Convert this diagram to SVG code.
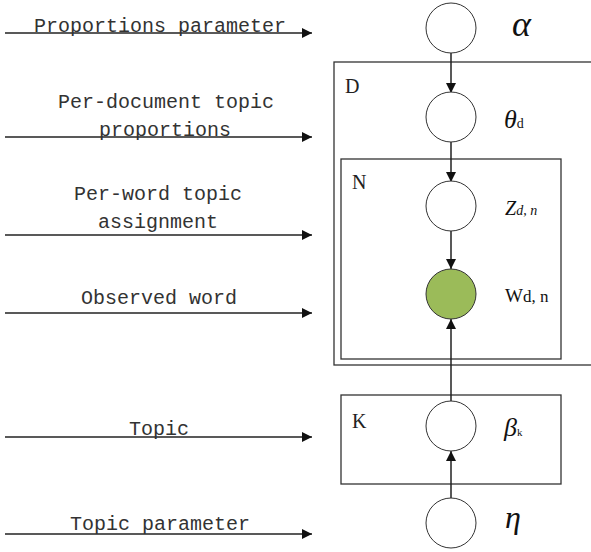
<svg xmlns="http://www.w3.org/2000/svg" width="591" height="552" viewBox="0 0 591 552">
<style>
.lbl{font-family:"Liberation Mono",monospace;font-size:20px;fill:#333;text-anchor:middle}
.ln{stroke:#222;stroke-width:1.5;fill:none}
.box{stroke:#333;stroke-width:1.3;fill:none}
.nd{stroke:#333;stroke-width:1;fill:#fff}
.sym{font-family:"Liberation Serif",serif;font-style:italic;fill:#111}
.pl{font-family:"Liberation Serif",serif;font-size:20px;fill:#222}
</style>
<defs>
<marker id="ah" viewBox="0 0 10 10" refX="10" refY="5" markerWidth="10" markerHeight="10" markerUnits="userSpaceOnUse" orient="auto">
<path d="M0,0 L10,5 L0,10 Z" fill="#111"/>
</marker>
</defs>
<g id="plates">
<rect x="334" y="62" width="270" height="303" class="box"/>
<rect x="341" y="159" width="220" height="200" class="box"/>
<rect x="341" y="395" width="220" height="89" class="box"/>
<text x="345" y="93" class="pl">D</text>
<text x="352" y="189" class="pl">N</text>
<text x="352" y="428" class="pl">K</text>
</g>
<g id="connectors">
<line x1="451" y1="53" x2="451" y2="93" class="ln" marker-end="url(#ah)"/>
<line x1="451" y1="142" x2="451" y2="182" class="ln" marker-end="url(#ah)"/>
<line x1="451" y1="231" x2="451" y2="269" class="ln" marker-end="url(#ah)"/>
<line x1="451" y1="402" x2="451" y2="319" class="ln" marker-end="url(#ah)"/>
<line x1="451" y1="498" x2="451" y2="451" class="ln" marker-end="url(#ah)"/>
<line x1="5" y1="33" x2="312" y2="33" class="ln" marker-end="url(#ah)"/>
<line x1="5" y1="137" x2="312" y2="137" class="ln" marker-end="url(#ah)"/>
<line x1="5" y1="235" x2="312" y2="235" class="ln" marker-end="url(#ah)"/>
<line x1="5" y1="313" x2="312" y2="313" class="ln" marker-end="url(#ah)"/>
<line x1="5" y1="437" x2="312" y2="437" class="ln" marker-end="url(#ah)"/>
<line x1="5" y1="534" x2="312" y2="534" class="ln" marker-end="url(#ah)"/>
</g>
<g id="labels">
<text x="160" y="32" class="lbl">Proportions parameter</text>
<text x="166" y="108" class="lbl">Per-document topic</text>
<text x="165" y="136" class="lbl">proportions</text>
<text x="158" y="200" class="lbl">Per-word topic</text>
<text x="158" y="228" class="lbl">assignment</text>
<text x="159" y="304" class="lbl">Observed word</text>
<text x="159" y="435" class="lbl">Topic</text>
<text x="160" y="530" class="lbl">Topic parameter</text>
</g>
<g id="alpha">
<circle cx="451" cy="28" r="25" class="nd"/>
<text x="512" y="36" class="sym" font-size="36">α</text>
</g>
<g id="theta">
<circle cx="451" cy="117" r="25" class="nd"/>
<text x="504" y="128" class="sym" font-size="26">θ<tspan font-style="normal" font-size="14">d</tspan></text>
</g>
<g id="z">
<circle cx="451" cy="206" r="25" class="nd"/>
<text x="505" y="215" class="sym" font-size="20">Z<tspan font-size="14">d, n</tspan></text>
</g>
<g id="w">
<circle cx="451" cy="294" r="25" fill="#9BBB59" stroke="#333" stroke-width="1"/>
<text x="505" y="302" font-family="Liberation Serif,serif" font-size="19" fill="#111">W<tspan font-size="17">d, n</tspan></text>
</g>
<g id="beta">
<circle cx="451" cy="426" r="25" class="nd"/>
<text x="504" y="436" class="sym" font-size="26">β<tspan font-style="normal" font-size="11">k</tspan></text>
</g>
<g id="eta">
<circle cx="451" cy="523" r="25" class="nd"/>
<text x="505" y="528" class="sym" font-size="32">η</text>
</g>
</svg>
